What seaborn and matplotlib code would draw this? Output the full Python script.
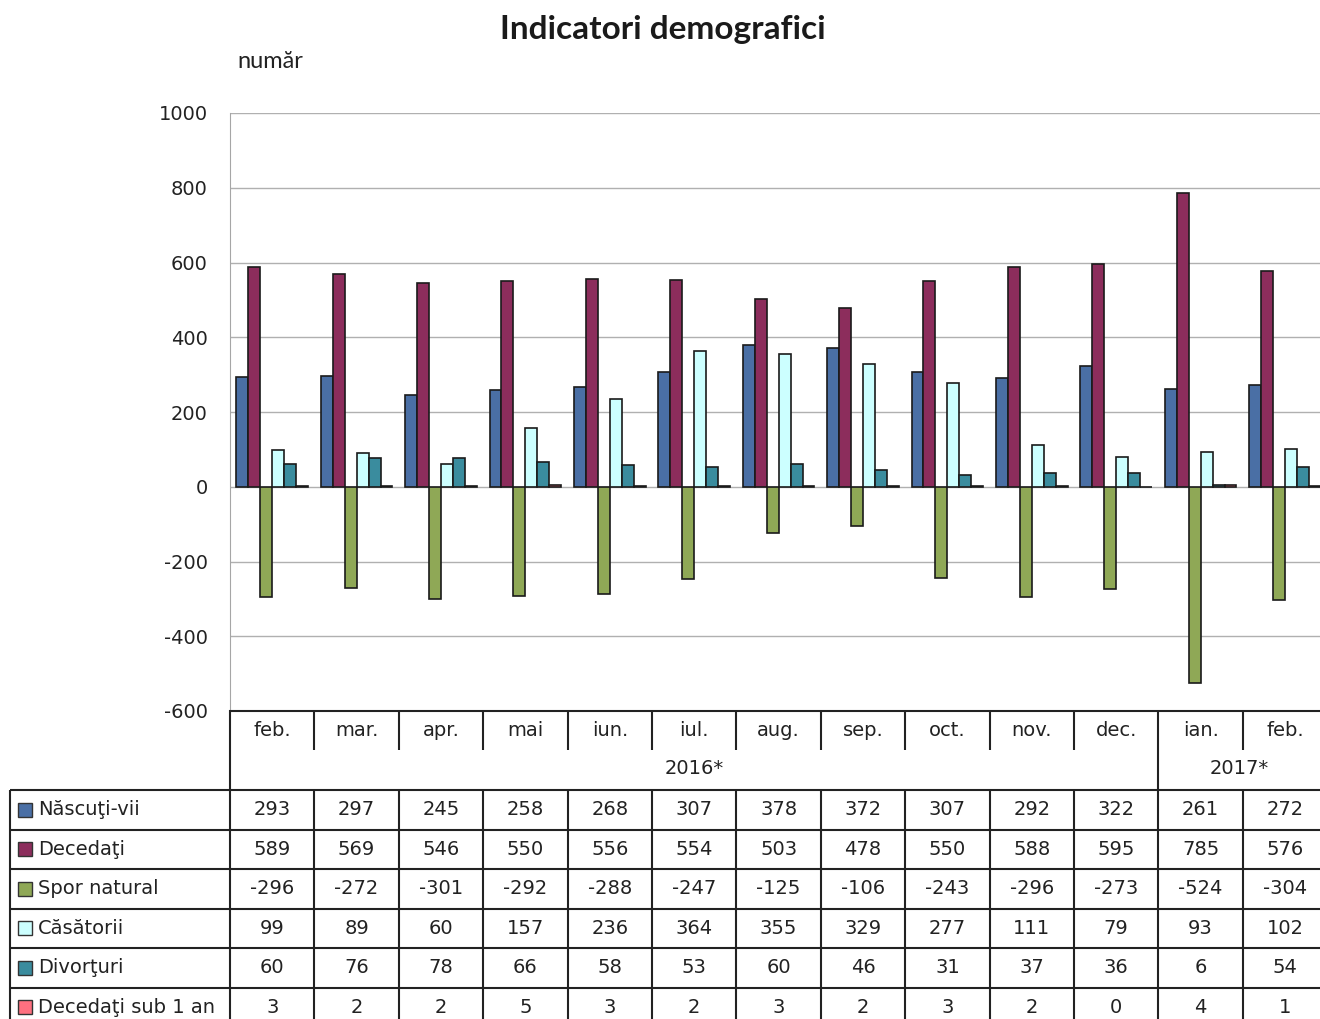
import pandas as pd
import matplotlib.pyplot as plt
import seaborn as sns
from matplotlib.patches import Rectangle

sns.set_style("white")
plt.rcParams['font.family'] = ['DejaVu Sans']
plt.rcParams['axes.unicode_minus'] = False

# Date (din tabelul graficului)
luni = ["feb.", "mar.", "apr.", "mai", "iun.", "iul.", "aug.", "sep.", "oct.", "nov.", "dec.", "ian.", "feb."]
ani = ["2016*"] * 11 + ["2017*"] * 2
nascuti = [293, 297, 245, 258, 268, 307, 378, 372, 307, 292, 322, 261, 272]
decedati = [589, 569, 546, 550, 556, 554, 503, 478, 550, 588, 595, 785, 576]
spor = [-296, -272, -301, -292, -288, -247, -125, -106, -243, -296, -273, -524, -304]
casatorii = [99, 89, 60, 157, 236, 364, 355, 329, 277, 111, 79, 93, 102]
divorturi = [60, 76, 78, 66, 58, 53, 60, 46, 31, 37, 36, 6, 54]
sub1an = [3, 2, 2, 5, 3, 2, 3, 2, 3, 2, 0, 4, 1]

indicatori = ["Născuţi-vii", "Decedaţi", "Spor natural", "Căsătorii", "Divorţuri", "Decedaţi sub 1 an"]
culori = ["#4A6FA5", "#8C2D5C", "#8FA856", "#CCFFFF", "#3A8C9E", "#FF7080"]

serii = [nascuti, decedati, spor, casatorii, divorturi, sub1an]
chei = [f"{l} {a}" for l, a in zip(luni, ani)]

rows = []
for nume, valori in zip(indicatori, serii):
    for k, v in zip(chei, valori):
        rows.append({"cheie": k, "indicator": nume, "valoare": v})
df = pd.DataFrame(rows)

W, H = 1320, 1019
fig = plt.figure(figsize=(W / 100, H / 100), dpi=100)

# Zona graficului
x0, cw = 230, 84.4
y_top, y_bot = 113, 711
ax = fig.add_axes([x0 / W, 1 - y_bot / H, 13 * cw / W, (y_bot - y_top) / H])
sns.barplot(data=df, x="cheie", y="valoare", hue="indicator", order=chei,
            hue_order=indicatori, palette=culori, width=0.85,
            edgecolor="#1a1a1a", linewidth=1.2, legend=False, ax=ax,
            saturation=1)
ax.set_xlim(-0.5, 12.5)
ax.set_ylim(-600, 1000)
ax.set_yticks(range(-600, 1001, 200))
ax.yaxis.grid(True, color="#B0B0B0", lw=1)
ax.set_axisbelow(True)
ax.set_xticks([])
ax.set_xlabel("")
ax.set_ylabel("")
for s in ["top", "right"]:
    ax.spines[s].set_visible(False)
ax.spines["left"].set_color("#A6A6A6")
ax.spines["bottom"].set_color("#222222")
ax.spines["bottom"].set_linewidth(1.5)
ax.tick_params(axis="y", length=5, color="#A6A6A6", labelsize=14, pad=11, labelcolor="#222222")

# Tabelul de date de sub grafic
tb = fig.add_axes([0, 0, 1, 1])
tb.set_xlim(0, W)
tb.set_ylim(H, 0)
tb.axis("off")
tb.patch.set_alpha(0)

bounds = [x0 + cw * i for i in range(14)]
lc = "#222222"
lw = 1.5

for i in range(1, 13):
    if i == 11:
        tb.vlines(bounds[i], 712, 790, color=lc, lw=lw)
    else:
        tb.vlines(bounds[i], 712, 750, color=lc, lw=lw)
    tb.vlines(bounds[i], 790, H, color=lc, lw=lw)
tb.vlines(x0, 712, H, color=lc, lw=lw)
tb.vlines(10, 790, H, color=lc, lw=lw)

rh = 39.5
row_y = [790 + rh * k for k in range(6)]
for y in row_y:
    tb.hlines(y, 10, W, color=lc, lw=lw)

for i, l in enumerate(luni):
    tb.text((bounds[i] + bounds[i + 1]) / 2, 731, l, ha="center", va="center", fontsize=14, color=lc)
tb.text((x0 + bounds[11]) / 2, 769, "2016*", ha="center", va="center", fontsize=14, color=lc)
tb.text((bounds[11] + W) / 2, 769, "2017*", ha="center", va="center", fontsize=14, color=lc)

for r, (nume, valori, c) in enumerate(zip(indicatori, serii, culori)):
    yc = row_y[r] + rh / 2
    tb.add_patch(Rectangle((18, yc - 7), 14, 14, facecolor=c, edgecolor="#333333", lw=1))
    tb.text(38, yc, nume, ha="left", va="center", fontsize=14, color=lc)
    for i, v in enumerate(valori):
        tb.text((bounds[i] + bounds[i + 1]) / 2, yc, str(v), ha="center", va="center", fontsize=14, color=lc)

fig.text(663 / W, 1 - 30 / H, "Indicatori demografici", ha="center", va="center",
         fontsize=24, fontweight="bold", family="Lato", color="#1a1a1a")
fig.text(237 / W, 1 - 62 / H, "număr", ha="left", va="center", fontsize=17, family="Lato", color="#222222")

fig.savefig("out.png", dpi=100)
